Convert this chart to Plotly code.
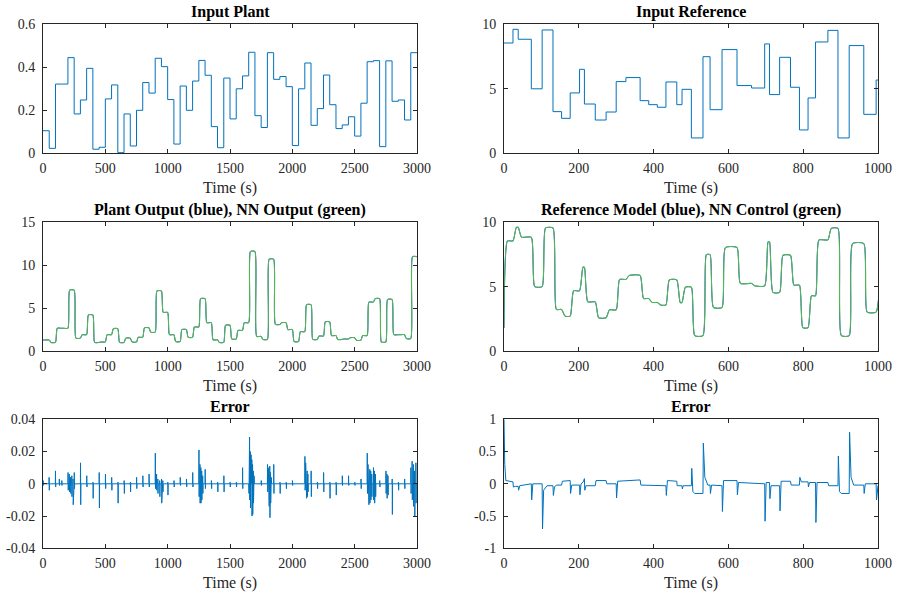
import plotly.graph_objects as go

# ---------------- data ----------------
# Input Plant: step start times (s) and levels
plant_in_t = [0, 50, 100, 150, 200, 250, 300, 350, 400, 450,
              500, 550, 600, 650, 700, 750, 800, 850, 900, 950,
              1000, 1050, 1100, 1150, 1200, 1250, 1300, 1350, 1400, 1450,
              1500, 1550, 1600, 1650, 1700, 1750, 1800, 1850, 1900, 1950,
              2000, 2050, 2100, 2150, 2200, 2250, 2300, 2350, 2400, 2450,
              2500, 2550, 2600, 2650, 2700, 2750, 2800, 2850, 2900, 2950]
plant_in_v = [0.105, 0.023, 0.322, 0.322, 0.445, 0.183, 0.248, 0.395, 0.019, 0.028,
              0.253, 0.318, 0.003, 0.183, 0.034, 0.200, 0.329, 0.280, 0.442, 0.403,
              0.250, 0.043, 0.313, 0.200, 0.336, 0.432, 0.363, 0.124, 0.026, 0.350,
              0.160, 0.300, 0.360, 0.470, 0.175, 0.120, 0.468, 0.344, 0.357, 0.310,
              0.036, 0.300, 0.420, 0.130, 0.208, 0.364, 0.226, 0.115, 0.132, 0.170,
              0.080, 0.233, 0.426, 0.431, 0.031, 0.430, 0.242, 0.248, 0.155, 0.468]

# Plant output (blue) and NN output (green) settled levels per step
plant_out_v = [1.28, 1.0, 2.65, 2.65, 7.1, 1.5, 1.9, 4.2, 1.0, 1.05,
               1.9, 2.6, 1.0, 1.5, 1.05, 1.6, 2.7, 2.2, 7.0, 4.5,
               1.9, 1.1, 2.5, 1.6, 2.8, 6.1, 3.3, 1.3, 1.0, 3.0,
               1.4, 2.4, 3.3, 11.6, 1.7, 1.35, 10.7, 3.1, 3.3, 2.5,
               1.1, 2.25, 5.4, 1.35, 1.75, 3.4, 1.8, 1.35, 1.4, 1.55,
               1.25, 1.8, 5.7, 6.1, 1.05, 6.0, 1.9, 1.9, 1.45, 11.0]
nn_out_v = [1.28, 1.0, 2.65, 2.65, 7.1, 1.5, 1.9, 4.2, 1.0, 1.05,
            1.9, 2.6, 1.0, 1.5, 1.05, 1.6, 2.7, 2.2, 7.0, 4.5,
            1.9, 1.1, 2.5, 1.6, 2.8, 6.1, 3.3, 1.3, 1.0, 3.0,
            1.4, 2.4, 3.3, 11.6, 1.7, 1.35, 10.7, 3.1, 3.3, 2.5,
            1.1, 2.25, 5.4, 1.35, 1.75, 3.4, 1.8, 1.35, 1.4, 1.55,
            1.25, 1.8, 5.7, 6.1, 1.05, 6.0, 1.9, 1.9, 1.45, 11.0]

# Input Reference: step start times (s) and levels
ref_t = [0, 24, 38, 73, 102, 131, 154, 177, 202, 215,
         244, 273, 300, 326, 364, 387, 410, 433, 462, 476,
         501, 532, 551, 583, 623, 662, 697, 710, 737, 766,
         790, 813, 833, 866, 893, 923, 962, 995]
ref_v = [8.55, 9.61, 8.84, 5.0, 9.56, 3.23, 2.71, 4.68, 6.51, 3.82,
         2.58, 3.2, 5.56, 5.87, 4.08, 3.77, 3.57, 5.53, 3.77, 4.96,
         1.19, 7.49, 3.38, 8.04, 5.25, 5.06, 8.48, 4.55, 7.44, 5.12,
         1.81, 4.29, 8.63, 9.53, 1.19, 8.35, 3.02, 5.68]
ref_model_start = 1.8
nn_control_start = 1.8

# Error (left): spikes at times, with positive and negative peaks
err1_t = [0, 48, 99, 130, 150, 200, 210, 220, 230, 240, 250, 300, 350, 400, 450,
          500, 550, 600, 650, 700, 750, 800, 850, 900, 910, 920, 935, 950, 960,
          1000, 1050, 1100, 1150, 1200, 1250, 1258, 1265, 1272, 1280, 1300, 1350,
          1400, 1450, 1500, 1550, 1600, 1650, 1656, 1662, 1668, 1674, 1680, 1686,
          1692, 1750, 1800, 1806, 1812, 1818, 1824, 1830, 1850, 1900, 1950, 2000,
          2100, 2106, 2112, 2118, 2124, 2150, 2200, 2250, 2300, 2350, 2400, 2450,
          2500, 2550, 2600, 2606, 2612, 2620, 2628, 2636, 2650, 2658, 2666, 2700,
          2750, 2758, 2766, 2800, 2850, 2900, 2950, 2960, 2970, 2980, 2990]
err1_up = [0.002, 0.004, 0.008, 0.003, 0.002, 0.007, 0.006, 0.004, 0.005, 0.003, 0.007, 0.013, 0.005, 0.001, 0.007,
           0.006, 0.004, 0.001, 0.002, 0.001, 0.004, 0.005, 0.006, 0.019, 0.006, 0.003, 0.002, 0.003, 0.002,
           0.001, 0.002, 0.004, 0.003, 0.007, 0.021, 0.012, 0.010, 0.008, 0.005, 0.009, 0.002,
           0.001, 0.005, 0.001, 0.001, 0.010, 0.008, 0.029, 0.020, 0.018, 0.015, 0.012, 0.008,
           0.005, 0.002, 0.012, 0.010, 0.008, 0.011, 0.007, 0.004, 0.012, 0.001, 0.001, 0.002,
           0.017, 0.013, 0.010, 0.008, 0.006, 0.008, 0.001, 0.007, 0.001, 0.001, 0.005, 0.005,
           0.001, 0.003, 0.019, 0.012, 0.010, 0.009, 0.008, 0.006, 0.010, 0.008, 0.006, 0.002,
           0.008, 0.006, 0.005, 0.003, 0.001, 0.003, 0.010, 0.014, 0.012, 0.008, 0.013]
err1_dn = [-0.001, -0.004, -0.002, -0.001, -0.001, -0.004, -0.005, -0.006, -0.008, -0.013, -0.003, -0.013, -0.002, -0.009, -0.015,
           -0.003, -0.004, -0.012, -0.006, -0.005, -0.003, -0.002, -0.002, -0.003, -0.004, -0.006, -0.008, -0.012, -0.005,
           -0.007, -0.002, -0.001, -0.002, -0.002, -0.008, -0.012, -0.012, -0.010, -0.006, -0.003, -0.003,
           -0.005, -0.005, -0.002, -0.002, -0.003, -0.006, -0.010, -0.015, -0.012, -0.020, -0.019, -0.012,
           -0.006, -0.001, -0.005, -0.010, -0.014, -0.021, -0.012, -0.006, -0.006, -0.006, -0.003, -0.001,
           -0.004, -0.007, -0.009, -0.008, -0.005, -0.008, -0.003, -0.005, -0.009, -0.007, -0.001, -0.001,
           -0.001, -0.003, -0.006, -0.010, -0.013, -0.012, -0.010, -0.008, -0.010, -0.012, -0.008, -0.002,
           -0.006, -0.009, -0.007, -0.019, -0.004, -0.003, -0.006, -0.010, -0.014, -0.020, -0.012]

# Error (right): breakpoints (time s, error)
err2_t = [0, 2, 5, 24, 25, 30, 38, 39, 42, 73, 74, 77, 102, 103, 106, 115,
          131, 132, 135, 140, 154, 156, 177, 178, 181, 202, 203, 206, 212, 215, 216, 219,
          244, 246, 273, 275, 300, 301, 304, 364, 366, 433, 434, 437,
          462, 463, 476, 477, 479, 501, 502, 505, 510, 532, 533, 537, 545,
          551, 552, 555, 583, 584, 587, 623, 624, 627, 697, 698, 701,
          710, 711, 714, 737, 738, 741, 766, 768, 790, 791, 795, 813, 814, 817,
          833, 834, 837, 866, 868, 893, 894, 897, 902, 923, 924, 928, 935,
          962, 963, 966, 995, 996, 999, 1000]
err2_v = [1.0, 0.3, 0.05, 0.03, -0.05, -0.04, -0.04, -0.1, -0.03, 0.0, -0.25, 0.0, 0.0, -0.7, -0.1, -0.03,
          -0.03, -0.18, -0.05, -0.02, -0.02, 0.04, 0.05, -0.15, -0.02, -0.02, -0.17, 0.0, 0.03, 0.08, -0.1, -0.03,
          -0.03, 0.05, 0.05, 0.0, 0.0, -0.22, 0.04, 0.06, -0.02, -0.03, -0.18, 0.05,
          0.04, -0.03, -0.03, -0.08, -0.03, -0.03, 0.24, -0.12, -0.15, -0.15, 0.63, 0.1, -0.02,
          -0.02, -0.15, -0.02, -0.03, -0.43, 0.05, 0.05, -0.17, 0.02, 0.0, -0.58, 0.02,
          0.02, -0.23, -0.03, -0.03, -0.42, 0.04, 0.04, -0.02, -0.02, 0.1, 0.03, 0.03, -0.05, 0.02,
          0.02, -0.6, 0.02, 0.02, -0.03, -0.03, 0.43, -0.12, -0.15, -0.15, 0.8, 0.1, -0.02,
          -0.02, -0.15, 0.0, 0.0, -0.25, -0.03, -0.03]

# ---------------- helpers ----------------
def step_xy(ts, vs, t_end):
    return list(ts) + [t_end], list(vs) + [vs[-1]]


def response_xy(ts, vs, start, rise, t_end):
    xs, ys = [ts[0]], [start]
    prev = start
    for t, v in zip(ts, vs):
        xs += [t, t + rise]
        ys += [prev, v]
        prev = v
    xs.append(t_end)
    ys.append(prev)
    return xs, ys


def spikes_xy(ts, ups, dns, t_end):
    xs, ys = [], []
    for t, u, d in zip(ts, ups, dns):
        xs += [t, t + 1, t + 2.5, t + 4]
        ys += [0, u, d, 0]
    xs.append(t_end)
    ys.append(0)
    return xs, ys


BLUE = '#0072BD'
PBLUE = '#1a3fd0'
GREEN = '#52B952'
AX = '#262626'
FONT = 'Liberation Serif'

fig = go.Figure()

x, y = step_xy(plant_in_t, plant_in_v, 3000)
fig.add_trace(go.Scatter(x=x, y=y, mode='lines', line=dict(color=BLUE, width=1, shape='hv'),
                         xaxis='x', yaxis='y'))
x, y = step_xy(ref_t, ref_v, 1000)
fig.add_trace(go.Scatter(x=x, y=y, mode='lines', line=dict(color=BLUE, width=1, shape='hv'),
                         xaxis='x2', yaxis='y2'))

x, y = response_xy(plant_in_t, plant_out_v, plant_out_v[0], 14, 3000)
fig.add_trace(go.Scatter(x=x, y=y, mode='lines', line=dict(color=PBLUE, width=1, shape='spline', smoothing=0.5),
                         xaxis='x3', yaxis='y3'))
x, y = response_xy(plant_in_t, nn_out_v, nn_out_v[0], 14, 3000)
fig.add_trace(go.Scatter(x=x, y=y, mode='lines', line=dict(color=GREEN, width=1.1, shape='spline', smoothing=0.5),
                         xaxis='x3', yaxis='y3'))

x, y = response_xy(ref_t, ref_v, ref_model_start, 9, 1000)
fig.add_trace(go.Scatter(x=x, y=y, mode='lines', line=dict(color=PBLUE, width=1, shape='spline', smoothing=0.5),
                         xaxis='x4', yaxis='y4'))
x, y = response_xy(ref_t, ref_v, nn_control_start, 9, 1000)
fig.add_trace(go.Scatter(x=x, y=y, mode='lines', line=dict(color=GREEN, width=1.1, shape='spline', smoothing=0.5),
                         xaxis='x4', yaxis='y4'))

x, y = spikes_xy(err1_t, err1_up, err1_dn, 3000)
fig.add_trace(go.Scatter(x=x, y=y, mode='lines', line=dict(color=BLUE, width=1),
                         xaxis='x5', yaxis='y5'))
fig.add_trace(go.Scatter(x=err2_t, y=err2_v, mode='lines', line=dict(color=BLUE, width=1),
                         xaxis='x6', yaxis='y6'))

# ---------------- layout ----------------
W, H = 901, 596
colx = [(43 / W, 417 / W), (504 / W, 878 / W)]
rowy = [(1 - 153.3 / H, 1 - 24.3 / H),
        (1 - 351 / H, 1 - 222.3 / H),
        (1 - 548.3 / H, 1 - 419.3 / H)]

base = dict(showline=True, linecolor=AX, linewidth=1, mirror='ticks', ticks='inside', ticklen=4,
            tickcolor=AX, tickwidth=1, showgrid=False, zeroline=False, automargin=False,
            tickfont=dict(family=FONT, size=14, color=AX))

xt3000 = [0, 500, 1000, 1500, 2000, 2500, 3000]
xt1000 = [0, 200, 400, 600, 800, 1000]
xaxes = [
    (xt3000, [0, 3000]), (xt1000, [0, 1000]),
    (xt3000, [0, 3000]), (xt1000, [0, 1000]),
    (xt3000, [0, 3000]), (xt1000, [0, 1000]),
]
yaxes = [
    ([0, 0.2, 0.4, 0.6], ['0', '0.2', '0.4', '0.6'], [0, 0.6]),
    ([0, 5, 10], ['0', '5', '10'], [0, 10]),
    ([0, 5, 10, 15], ['0', '5', '10', '15'], [0, 15]),
    ([0, 5, 10], ['0', '5', '10'], [0, 10]),
    ([-0.04, -0.02, 0, 0.02, 0.04], ['-0.04', '-0.02', '0', '0.02', '0.04'], [-0.04, 0.04]),
    ([-1, -0.5, 0, 0.5, 1], ['-1', '-0.5', '0', '0.5', '1'], [-1, 1]),
]
titles = ['Input Plant', 'Input Reference',
          'Plant Output (blue), NN Output (green)', 'Reference Model (blue), NN Control (green)',
          'Error', 'Error']

layout = dict(width=W, height=H, margin=dict(l=0, r=0, t=0, b=0, autoexpand=False), showlegend=False,
              paper_bgcolor='white', plot_bgcolor='white', annotations=[], hovermode=False)
for i in range(6):
    r, c = divmod(i, 2)
    n = '' if i == 0 else str(i + 1)
    xv, xr = xaxes[i]
    yv, yl, yr = yaxes[i]
    layout['xaxis' + n] = dict(base, domain=colx[c], range=xr, tickvals=xv,
                               ticktext=[str(v) for v in xv], anchor='y' + n, ticklabelstandoff=2)
    layout['yaxis' + n] = dict(base, domain=rowy[r], range=yr, tickvals=yv, ticktext=yl,
                               anchor='x' + n, ticklabelstandoff=4)
    xc = (colx[c][0] + colx[c][1]) / 2
    layout['annotations'].append(dict(text='<b>' + titles[i] + '</b>', x=xc, y=rowy[r][1], xref='paper',
                                      yref='paper', xanchor='center', yanchor='middle', yshift=12.5,
                                      showarrow=False, font=dict(family=FONT, size=16, color='black')))
    layout['annotations'].append(dict(text='Time (s)', x=xc, y=rowy[r][0], xref='paper', yref='paper',
                                      xanchor='center', yanchor='middle', yshift=-34.5, showarrow=False,
                                      font=dict(family=FONT, size=16, color=AX)))

fig.update_layout(**layout)
# remove the browser's default page margin so the figure fills the window from its corner
fig.write_html('out.html', config={'displayModeBar': False},
               post_script="document.body.style.margin='0';")
